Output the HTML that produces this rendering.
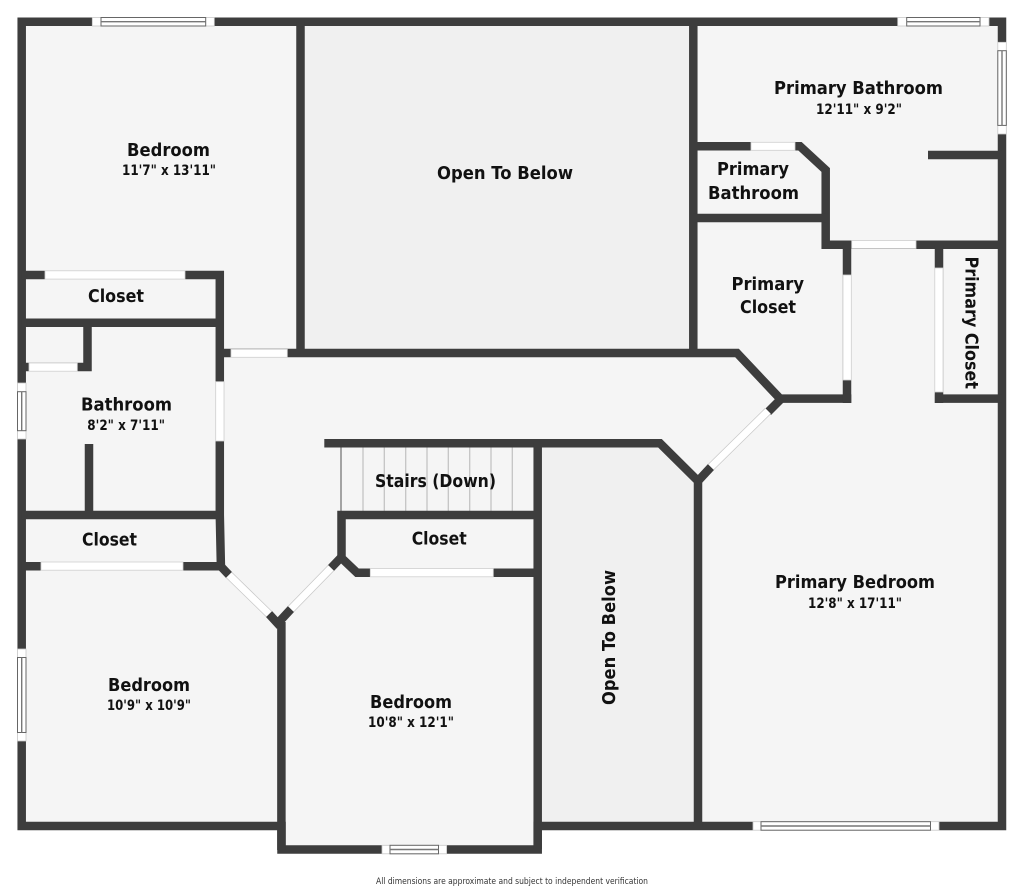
<!DOCTYPE html>
<html><head><meta charset="utf-8"><style>
html,body{margin:0;padding:0;background:#fff}
svg{display:block}
.w{stroke:#3d3d3d;stroke-width:8.5;fill:none;stroke-linecap:square;stroke-linejoin:miter}
.b{stroke:#3d3d3d;stroke-width:8.5;fill:none;stroke-linecap:butt}
.o{fill:#fff;stroke:#cfcfcf;stroke-width:.8}
.f{fill:#fff;stroke:#c8c8c8;stroke-width:.8}
.n{fill:#fff;stroke:#666;stroke-width:1}
.g{stroke:#777;stroke-width:1.4;fill:none}
text{font-family:"DejaVu Sans",sans-serif;fill:#111;font-weight:bold;font-size:17.5px}
.d{font-size:14px}
</style></head><body>
<svg width="1024" height="889" viewBox="0 0 1024 889" xmlns="http://www.w3.org/2000/svg">
<rect width="1024" height="889" fill="#fff"/>
<path d="M21.7 21.7H1002V826H537.7V849.5H281.5V826H21.7Z" fill="#f5f5f5"/>
<rect x="304" y="25" width="386" height="325" fill="#f0f0f0"/>
<path d="M541 447H658L694 483V822H541Z" fill="#f0f0f0"/>
<g stroke="#c4c4c4" stroke-width="1.3">
<line x1="363" y1="447" x2="363" y2="511"/><line x1="384.3" y1="447" x2="384.3" y2="511"/><line x1="405.7" y1="447" x2="405.7" y2="511"/><line x1="427" y1="447" x2="427" y2="511"/><line x1="448.3" y1="447" x2="448.3" y2="511"/><line x1="469.7" y1="447" x2="469.7" y2="511"/><line x1="491" y1="447" x2="491" y2="511"/><line x1="512.3" y1="447" x2="512.3" y2="511"/>
</g>
<line x1="341" y1="447" x2="341" y2="511" stroke="#777" stroke-width="1.3"/>
<path class="w" d="M21.7 21.7H1002V826H537.7V849.5H281.5V826H21.7Z"/>
<path class="b" d="M300.5 22V353M693.3 22V353M224 353H737L780 398.6H851.3"/>
<path class="b" d="M847 245V403"/>
<path class="b" d="M693 146.3H800L825.7 170V249"/>
<path class="b" d="M693 218H826M822 244.7H1002M928 155H1002"/>
<path class="b" d="M939 245V403M934.7 398.6H1002"/>
<path class="b" d="M324.3 443.3H660L698 481V826"/>
<path class="b" d="M537.7 443V849M337.3 515H537.7M341.5 511V558L357 572.7H537.7"/>
<path class="b" d="M21.7 275H224M219.8 271V515L221 570M21.7 322.7H220M87.5 322V371.3M21.7 367H91.7M89 444V515M21.7 515H220M21.7 566.2H221M281.4 622V850"/>
<line class="b" x1="781" y1="399" x2="768" y2="412"/>
<line class="b" x1="698" y1="481" x2="711" y2="467"/>
<line class="b" x1="341.5" y1="557" x2="331" y2="568"/>
<line class="b" x1="279" y1="622" x2="291" y2="609"/>
<line class="b" x1="220.5" y1="566" x2="229" y2="575"/>
<line class="b" x1="269" y1="614" x2="280" y2="626"/>
<line x1="768" y1="411" x2="711" y2="467" stroke="#c8c8c8" stroke-width="8.5"/>
<line x1="768" y1="411" x2="711" y2="467" stroke="#fff" stroke-width="7"/>
<line x1="331" y1="568" x2="291" y2="609" stroke="#c8c8c8" stroke-width="8.5"/>
<line x1="331" y1="568" x2="291" y2="609" stroke="#fff" stroke-width="7"/>
<line x1="229" y1="575" x2="269" y2="614" stroke="#c8c8c8" stroke-width="8.5"/>
<line x1="229" y1="575" x2="269" y2="614" stroke="#fff" stroke-width="7"/>
<!-- interior openings -->
<rect class="o" x="231" y="349.3" width="56.3" height="8"/>
<rect class="o" x="751" y="142.3" width="44" height="8"/>
<rect class="o" x="851.7" y="240.5" width="64.3" height="8"/>
<rect class="o" x="843" y="275" width="8.3" height="105"/>
<rect class="o" x="934.8" y="268" width="8.2" height="124"/>
<rect class="o" x="370.3" y="568.5" width="123" height="8.3"/>
<rect class="o" x="45" y="270.8" width="140" height="8.3"/>
<rect class="o" x="29" y="363" width="48.3" height="8.2"/>
<rect class="o" x="215.7" y="381.7" width="8.3" height="59.3"/>
<rect class="o" x="41" y="562" width="142" height="8.2"/>
<!-- top-left window -->
<rect class="f" x="92.3" y="17.5" width="122" height="8.5"/>
<rect class="n" x="101" y="17.5" width="104.7" height="8.5"/><line class="g" x1="101" y1="21.7" x2="205.7" y2="21.7"/>
<!-- top-right window -->
<rect class="f" x="897.7" y="17.5" width="91.3" height="8.5"/>
<rect class="n" x="906.7" y="17.5" width="73.3" height="8.5"/><line class="g" x1="906.7" y1="21.7" x2="980" y2="21.7"/>
<!-- right window -->
<rect class="f" x="997.8" y="42.3" width="8.5" height="91.7"/>
<rect class="n" x="997.8" y="50.7" width="8.5" height="74.7"/><line class="g" x1="1002" y1="50.7" x2="1002" y2="125.4"/>
<!-- left windows -->
<rect class="f" x="17.5" y="383" width="8.5" height="56"/>
<rect class="n" x="17.5" y="391.7" width="8.5" height="39"/><line class="g" x1="21.7" y1="391.7" x2="21.7" y2="430.7"/>
<rect class="f" x="17.5" y="649" width="8.5" height="92"/>
<rect class="n" x="17.5" y="657.5" width="8.5" height="75"/><line class="g" x1="21.7" y1="657.5" x2="21.7" y2="732.5"/>
<!-- bottom windows -->
<rect class="f" x="382" y="845.3" width="64.6" height="8.5"/>
<rect class="n" x="390" y="845.3" width="48.5" height="8.5"/><line class="g" x1="390" y1="849.5" x2="438.5" y2="849.5"/>
<rect class="f" x="753" y="821.7" width="186" height="8.5"/>
<rect class="n" x="761" y="821.7" width="169.5" height="8.5"/><line class="g" x1="761" y1="826" x2="930.5" y2="826"/>
<!-- labels -->
<text x="127" y="156" textLength="83" lengthAdjust="spacingAndGlyphs">Bedroom</text>
<text class="d" x="122" y="175" textLength="94" lengthAdjust="spacingAndGlyphs">11'7" x 13'11"</text>
<text x="437" y="179" textLength="136" lengthAdjust="spacingAndGlyphs">Open To Below</text>
<text x="774" y="94" textLength="169" lengthAdjust="spacingAndGlyphs">Primary Bathroom</text>
<text class="d" x="816" y="114" textLength="86" lengthAdjust="spacingAndGlyphs">12'11" x 9'2"</text>
<text x="717" y="175" textLength="72" lengthAdjust="spacingAndGlyphs">Primary</text>
<text x="708" y="199" textLength="91" lengthAdjust="spacingAndGlyphs">Bathroom</text>
<text x="731.5" y="290" textLength="72.5" lengthAdjust="spacingAndGlyphs">Primary</text>
<text x="740" y="313" textLength="56" lengthAdjust="spacingAndGlyphs">Closet</text>
<text transform="translate(965.5 256.5) rotate(90)" textLength="132.5" lengthAdjust="spacingAndGlyphs">Primary Closet</text>
<text x="88" y="302" textLength="56" lengthAdjust="spacingAndGlyphs">Closet</text>
<text x="81" y="410.5" textLength="91" lengthAdjust="spacingAndGlyphs">Bathroom</text>
<text class="d" x="87.3" y="430" textLength="77.7" lengthAdjust="spacingAndGlyphs">8'2" x 7'11"</text>
<text x="82" y="545.5" textLength="55" lengthAdjust="spacingAndGlyphs">Closet</text>
<text x="375" y="487" textLength="121" lengthAdjust="spacingAndGlyphs">Stairs (Down)</text>
<text x="411.7" y="544.5" textLength="55" lengthAdjust="spacingAndGlyphs">Closet</text>
<text x="108" y="691" textLength="82" lengthAdjust="spacingAndGlyphs">Bedroom</text>
<text class="d" x="107" y="710" textLength="84" lengthAdjust="spacingAndGlyphs">10'9" x 10'9"</text>
<text x="370" y="708" textLength="82" lengthAdjust="spacingAndGlyphs">Bedroom</text>
<text class="d" x="368" y="727" textLength="86" lengthAdjust="spacingAndGlyphs">10'8" x 12'1"</text>
<text transform="translate(615 705) rotate(-90)" textLength="135" lengthAdjust="spacingAndGlyphs">Open To Below</text>
<text x="775" y="588" textLength="160" lengthAdjust="spacingAndGlyphs">Primary Bedroom</text>
<text class="d" x="808" y="608" textLength="94" lengthAdjust="spacingAndGlyphs">12'8" x 17'11"</text>
<text x="376" y="884" textLength="272" lengthAdjust="spacingAndGlyphs" style="font-size:9px;font-weight:normal;fill:#333">All dimensions are approximate and subject to independent verification</text>
</svg>
</body></html>
